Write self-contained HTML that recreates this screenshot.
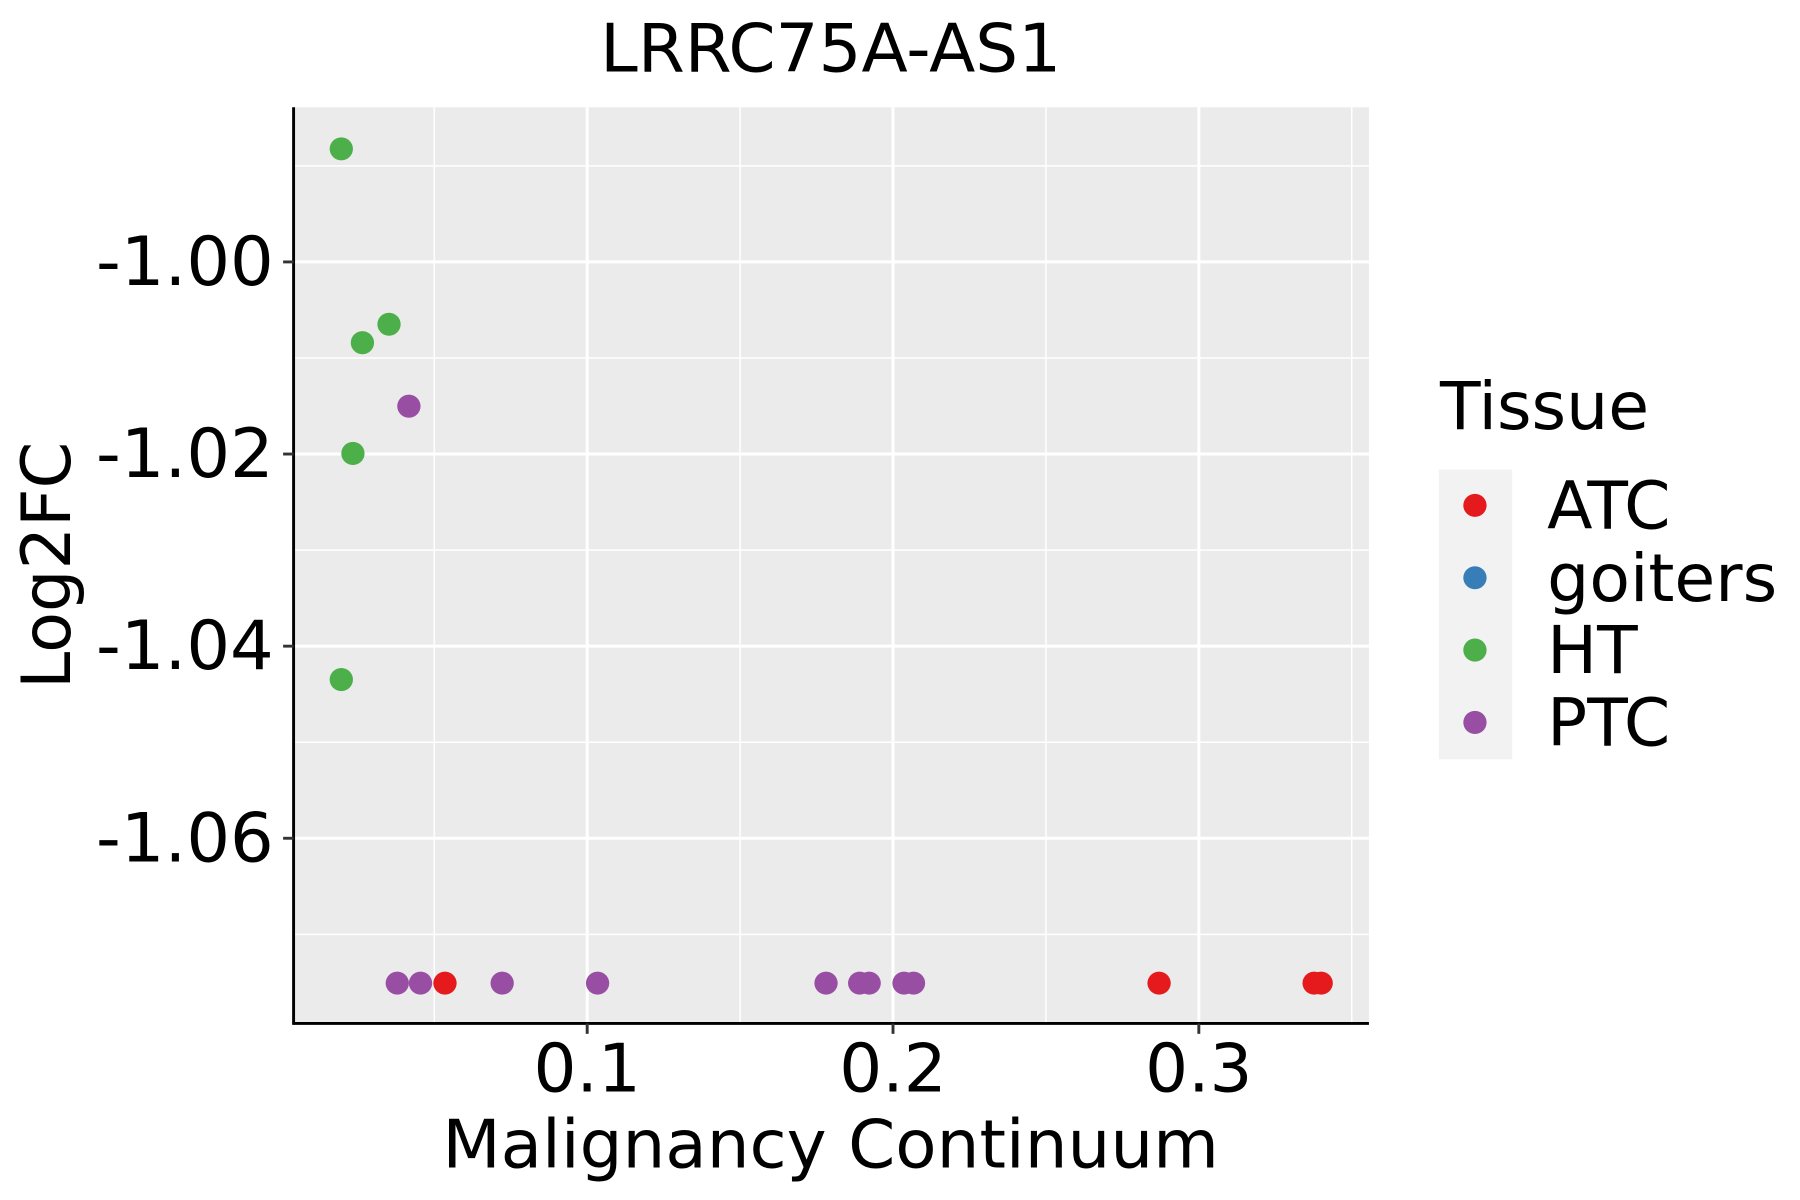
<!DOCTYPE html>
<html><head><meta charset="utf-8"><style>
html,body{margin:0;padding:0;background:#fff;width:1800px;height:1200px;overflow:hidden}
svg{display:block}
text{font-family:"DejaVu Sans","Liberation Sans",sans-serif;fill:#000}
</style></head><body>
<svg id="chart" width="1800" height="1200" viewBox="0 0 1545 1040" preserveAspectRatio="none" xmlns="http://www.w3.org/2000/svg">
<text x="713" y="62" font-size="58" text-anchor="middle">LRRC75A-AS1</text>
<rect x="252" y="93" width="923" height="794" fill="#ebebeb"/>
<g id="grid"></g>
<g id="points"></g>
<line x1="252" y1="93" x2="252" y2="888" stroke="#000" stroke-width="2.5"/>
<line x1="251" y1="887" x2="1175" y2="887" stroke="#000" stroke-width="2.5"/>
<g id="ticks"></g>
<text x="713" y="1012" font-size="58" text-anchor="middle">Malignancy Continuum</text>
<text transform="translate(60,490) rotate(-90)" font-size="58" text-anchor="middle">Log2FC</text>
<g>
<text x="1236" y="372" font-size="57">Tissue</text>
<rect x="1235" y="407" width="63" height="251" fill="#f2f2f2"/>
<g id="legend-entries"></g>
</g>
</svg>
<script>
const htX=[0.0196,0.0352,0.0265,0.0234,0.0196];
const htY=[-0.98823,-1.00649,-1.00841,-1.01994,-1.04348];
const ptcX=[0.0417,0.0379,0.0455,0.0722,0.1034,0.1781,0.1891,0.1922,0.2036,0.2067];
const ptcY=[-1.01502,-1.07508,-1.07508,-1.07508,-1.07508,-1.07508,-1.07508,-1.07508,-1.07508,-1.07508];
const atcX=[0.0535,0.2870,0.3377,0.3400];
const atcY=[-1.07508,-1.07508,-1.07508,-1.07508];
const xTicks=[0.1,0.2,0.3];
const xTickLabels=["0.1","0.2","0.3"];
const xMinor=[0.05,0.15,0.25,0.35];
const yTicks=[-1.00,-1.02,-1.04,-1.06];
const yTickLabels=["-1.00","-1.02","-1.04","-1.06"];
const yMinor=[-0.99,-1.01,-1.03,-1.05,-1.07];
const legendLabels=["ATC","goiters","HT","PTC"];
const legendColors=["#e41a1c","#377eb8","#4daf4a","#984ea3"];

const NS="http://www.w3.org/2000/svg";
const xs=v=>241.5+(v)*2625;
const ys=v=>227-(v+1.0)*8325;
function mk(tag,attrs,parent){const e=document.createElementNS(NS,tag);for(const k in attrs)e.setAttribute(k,attrs[k]);parent.appendChild(e);return e;}
const grid=document.getElementById('grid'),ticks=document.getElementById('ticks'),pts=document.getElementById('points');
yMinor.forEach(v=>{const l=mk('line',{x1:252,x2:1175,y1:ys(v),y2:ys(v),stroke:'#fff','stroke-width':1.3},grid);

});
xMinor.forEach(v=>{const l=mk('line',{x1:xs(v),x2:xs(v),y1:93,y2:887,stroke:'#fff','stroke-width':1.3},grid);

});
yTicks.forEach((v,i)=>{const l=mk('line',{x1:252,x2:1175,y1:ys(v),y2:ys(v),stroke:'#fff','stroke-width':2.6},grid);


const t=mk('line',{x1:243,x2:252,y1:ys(v),y2:ys(v),stroke:'#333','stroke-width':2.5},ticks);


const tx=mk('text',{x:235,y:ys(v)+20,'font-size':59,'text-anchor':'end'},ticks);tx.textContent=yTickLabels[i];

});
xTicks.forEach((v,i)=>{const l=mk('line',{x1:xs(v),x2:xs(v),y1:93,y2:887,stroke:'#fff','stroke-width':2.6},grid);


const t=mk('line',{x1:xs(v),x2:xs(v),y1:887,y2:896,stroke:'#333','stroke-width':2.5},ticks);


const tx=mk('text',{x:xs(v),y:946,'font-size':58,'text-anchor':'middle'},ticks);tx.textContent=xTickLabels[i];

});
function series(X,Y,color,name){X.forEach((x,i)=>{const c=mk('circle',{cx:xs(x),cy:ys(Y[i]),r:10,fill:color},pts);

});}
series(htX,htY,'#4daf4a','point-ht');
series(ptcX,ptcY,'#984ea3','point-ptc');
series(atcX,atcY,'#e41a1c','point-atc');
const le=document.getElementById('legend-entries');
legendLabels.forEach((lab,i)=>{const y=438+i*62.7;
const c=mk('circle',{cx:1266,cy:y,r:10,fill:legendColors[i]},le);


const t=mk('text',{x:1328,y:y+20,'font-size':57},le);t.textContent=lab;

});
</script>
</body></html>
